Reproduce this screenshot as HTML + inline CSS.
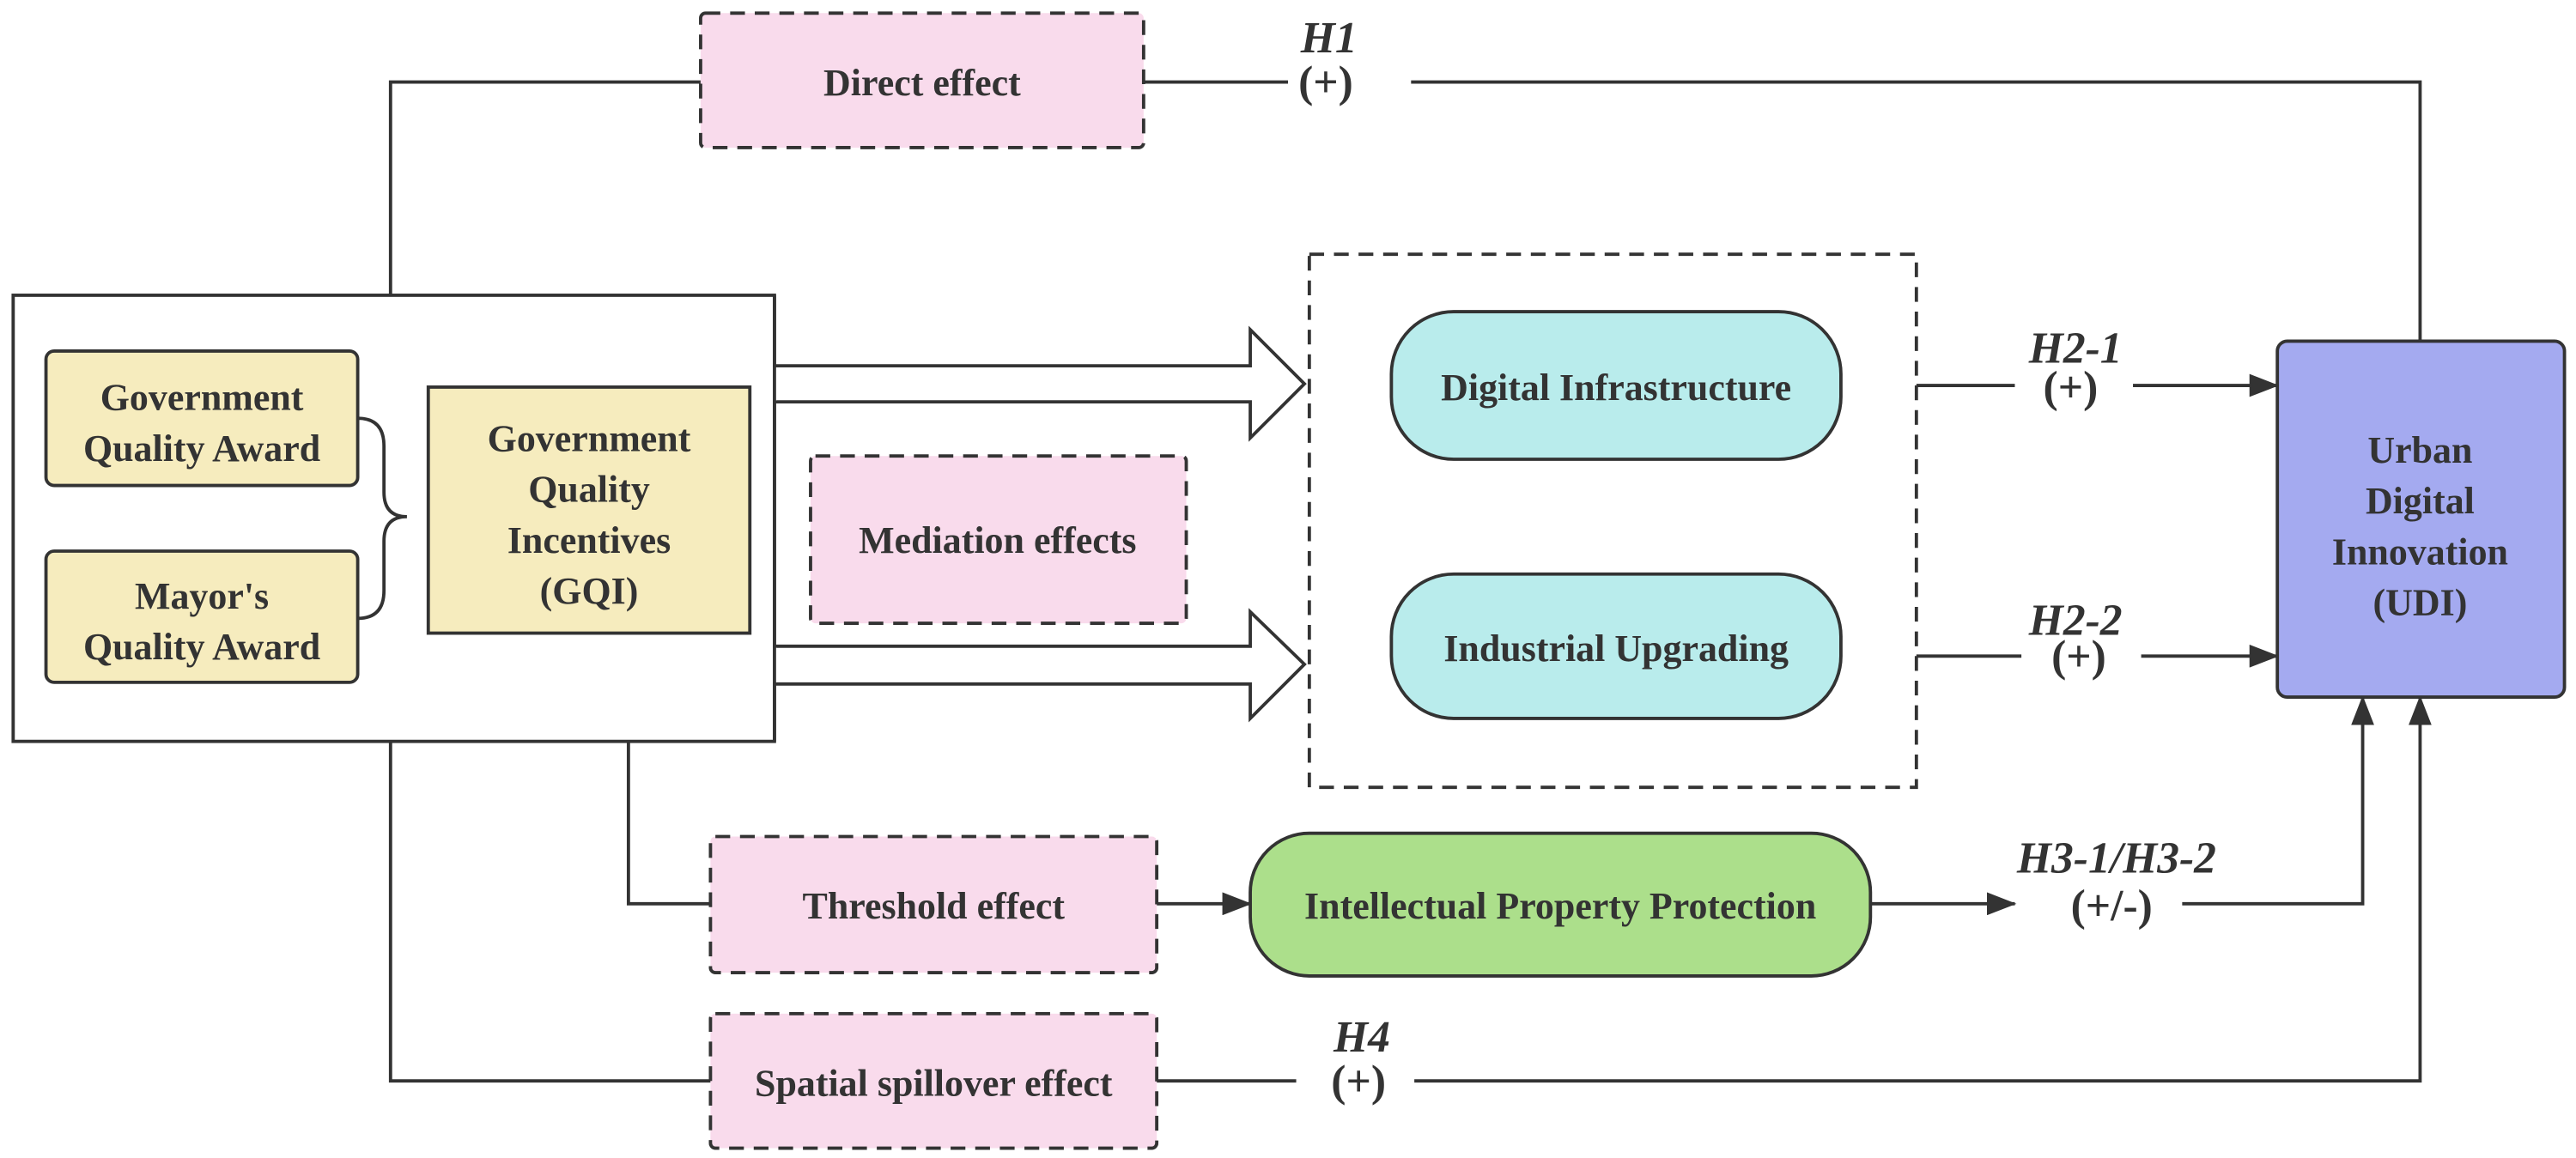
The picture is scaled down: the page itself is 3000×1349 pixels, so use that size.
<!DOCTYPE html>
<html><head><meta charset="utf-8"><style>
html,body{margin:0;padding:0;background:#fff;}
svg{display:block;}
svg text{font-family:"Liberation Serif","DejaVu Serif",serif;font-weight:bold;fill:#333;text-anchor:middle;}
.it{font-style:italic;}
</style></head><body>
<svg width="3000" height="1349" viewBox="0 0 1570 706" xmlns="http://www.w3.org/2000/svg" font-family="Liberation Serif, serif">
<defs>
<marker id="ah2" markerWidth="18" markerHeight="14" refX="17" refY="7" orient="auto" markerUnits="userSpaceOnUse"><path d="M0,0 L18,7 L0,14 z" fill="#333"/></marker></defs>
<g stroke="#333" stroke-width="2" fill="none">
<polyline points="238,180 238,50 427,50"/>
<line x1="697" y1="50" x2="785" y2="50"/>
<polyline points="860,50 1475,50 1475,208"/>
<line x1="1168" y1="235" x2="1228" y2="235"/>
<line x1="1300" y1="235" x2="1388" y2="235" marker-end="url(#ah2)"/>
<line x1="1168" y1="400" x2="1232" y2="400"/>
<line x1="1305" y1="400" x2="1388" y2="400" marker-end="url(#ah2)"/>
<polyline points="383,452 383,551 433,551"/>
<line x1="705" y1="551" x2="762" y2="551" marker-end="url(#ah2)"/>
<line x1="1140" y1="551" x2="1228" y2="551" marker-end="url(#ah2)"/>
<polyline points="1330,551 1440,551 1440,425" marker-end="url(#ah2)"/>
<polyline points="238,452 238,659 433,659"/>
<line x1="705" y1="659" x2="790" y2="659"/>
<polyline points="862,659 1475,659 1475,425" marker-end="url(#ah2)"/>
</g>
<rect x="8" y="180" width="464" height="272" fill="#fff" stroke="#333" stroke-width="2"/>
<rect x="28" y="214" width="190" height="82" rx="5" fill="#f6ecbe" stroke="#333" stroke-width="2"/>
<rect x="28" y="336" width="190" height="80" rx="5" fill="#f6ecbe" stroke="#333" stroke-width="2"/>
<rect x="261" y="236" width="196" height="150" fill="#f6ecbe" stroke="#333" stroke-width="2"/>
<path d="M218,255 Q234,255 234,272 L234,300 Q234,315 248,315 Q234,315 234,330 L234,360 Q234,377 218,377" fill="none" stroke="#333" stroke-width="2"/>
<text x="123" y="250" font-size="23">Government</text>
<text x="123" y="281" font-size="23">Quality Award</text>
<text x="123" y="371" font-size="23">Mayor's</text>
<text x="123" y="402" font-size="23">Quality Award</text>
<text x="359" y="275" font-size="23">Government</text>
<text x="359" y="306" font-size="23">Quality</text>
<text x="359" y="337" font-size="23">Incentives</text>
<text x="359" y="368" font-size="23">(GQI)</text>
<path d="M472,223 L762,223 L762,201 L795,234 L762,267 L762,245 L472,245" fill="#fff" stroke="#333" stroke-width="2"/>
<path d="M472,394 L762,394 L762,373 L795,405 L762,438 L762,417 L472,417" fill="#fff" stroke="#333" stroke-width="2"/>
<line x1="472" y1="224" x2="472" y2="244" stroke="#fff" stroke-width="3"/>
<line x1="472" y1="395" x2="472" y2="416" stroke="#fff" stroke-width="3"/>
<line x1="472" y1="180" x2="472" y2="452" stroke="#333" stroke-width="2"/>
<g fill="#f9dbec" stroke="#333" stroke-width="2" stroke-dasharray="9,6">
<rect x="427" y="8" width="270" height="82" rx="3"/>
<rect x="494" y="278" width="229" height="102" rx="3"/>
<rect x="433" y="510" width="272" height="83" rx="3"/>
<rect x="433" y="618" width="272" height="82" rx="3"/>
</g>
<rect x="798" y="155" width="370" height="325" fill="none" stroke="#333" stroke-width="2" stroke-dasharray="9,6"/>
<text x="562" y="58" font-size="23">Direct effect</text>
<text x="608" y="337" font-size="23">Mediation effects</text>
<text x="569" y="560" font-size="23">Threshold effect</text>
<text x="569" y="668" font-size="23">Spatial spillover effect</text>
<rect x="848" y="190" width="274" height="90" rx="38" fill="#b9ecec" stroke="#333" stroke-width="2"/>
<rect x="848" y="350" width="274" height="88" rx="38" fill="#b9ecec" stroke="#333" stroke-width="2"/>
<rect x="762" y="508" width="378" height="87" rx="36" fill="#acdf8b" stroke="#333" stroke-width="2"/>
<text x="985" y="244" font-size="23">Digital Infrastructure</text>
<text x="985" y="403" font-size="23">Industrial Upgrading</text>
<text x="951" y="560" font-size="23">Intellectual Property Protection</text>
<rect x="1388" y="208" width="175" height="217" rx="6" fill="#a4aaf0" stroke="#333" stroke-width="2"/>
<text x="1475" y="282" font-size="23">Urban</text>
<text x="1475" y="313" font-size="23">Digital</text>
<text x="1475" y="344" font-size="23">Innovation</text>
<text x="1475" y="375" font-size="23">(UDI)</text>
<text class="it" x="810" y="32" font-size="27">H1</text>
<text x="808" y="59" font-size="27">(+)</text>
<text class="it" x="1265" y="221" font-size="27">H2-1</text>
<text x="1262" y="245" font-size="27">(+)</text>
<text class="it" x="1265" y="387" font-size="27">H2-2</text>
<text x="1267" y="409" font-size="27">(+)</text>
<text class="it" x="1290" y="532" font-size="27">H3-1/H3-2</text>
<text x="1287" y="561" font-size="27">(+/-)</text>
<text class="it" x="830" y="641" font-size="27">H4</text>
<text x="828" y="668" font-size="27">(+)</text>
</svg>
</body></html>
